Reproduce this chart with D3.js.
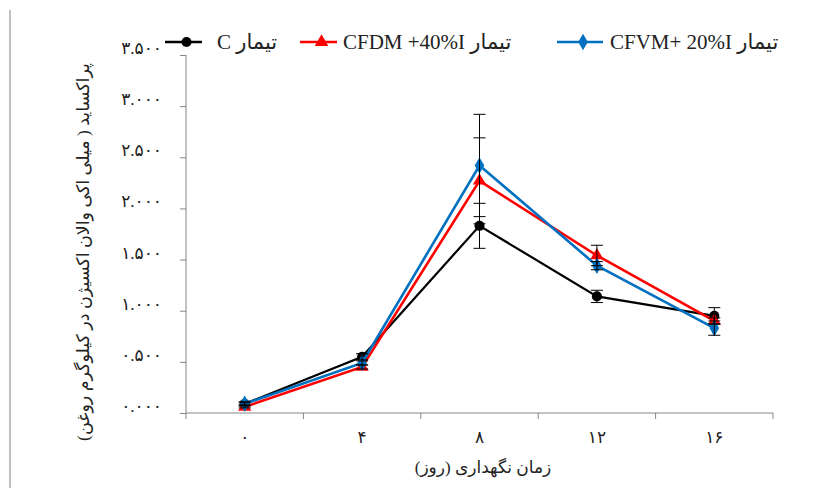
<!DOCTYPE html>
<html>
<head>
<meta charset="utf-8">
<script src="https://cdn.jsdelivr.net/npm/d3@7"></script>
<style>
body{margin:0;background:#fff;}
text{font-family:"Liberation Serif","Times New Roman","DejaVu Sans",serif;}
</style>
</head>
<body>
<div id="vis"></div>
<script>
// data
var days = ["۰","۴","۸","۱۲","۱۶"];
var yTicks = [0,0.5,1,1.5,2,2.5,3,3.5];
var yTickLabels = ["۰.۰۰۰","۰.۵۰۰","۱.۰۰۰","۱.۵۰۰","۲.۰۰۰","۲.۵۰۰","۳.۰۰۰","۳.۵۰۰"];
var seriesNames = ["C تیمار","CFDM +40%I تیمار","CFVM+ 20%I تیمار"];
var valC  = [0.09,0.55,1.83,1.14,0.95];
var valDM = [0.06,0.45,2.27,1.54,0.90];
var valVM = [0.09,0.49,2.42,1.44,0.83];
var errC  = [0.02,0.03,0.22,0.06,0.08];
var errDM = [0.01,0.02,0.42,0.10,0.03];
var errVM = [0.01,0.02,0.50,0.04,0.07];

var colors = ["#000000","#ff0000","#0070c0"];
var shapes = [d3.symbolCircle,d3.symbolTriangle,d3.symbolDiamond];

var series = [
    {name:seriesNames[0], vals:valC,  errs:errC},
    {name:seriesNames[1], vals:valDM, errs:errDM},
    {name:seriesNames[2], vals:valVM, errs:errVM}
];

var svg = d3.select("#vis").append("svg").attr("width",821).attr("height",488);

// page border line on the left
svg.append("line").attr("x1",10).attr("y1",10).attr("x2",10).attr("y2",488)
    .attr("stroke","#bfbfbf").attr("stroke-width",2);

var x = d3.scaleBand().domain(days).range([186,773]);
var y = d3.scaleLinear().domain([0,3.5]).range([413,55]);

var axisCol = "#868686";

// y axis
var gy = svg.append("g").attr("transform","translate(186,0)")
    .call(d3.axisLeft(y).tickValues(yTicks).tickSize(6).tickFormat(""));
gy.selectAll("path,line").attr("stroke",axisCol);
gy.select(".domain").attr("d","M0,"+y(3.5)+"V"+y(0));
yTicks.forEach(function(t,i){
    svg.append("text").text(yTickLabels[i])
        .attr("x",162).attr("y",y(t)-1)
        .attr("text-anchor","end").attr("font-size",17).attr("fill","#222");
});

// x axis
var gx = svg.append("g").attr("transform","translate(0,413)")
    .call(d3.axisBottom(x).tickSize(0).tickFormat(""));
gx.select(".domain").attr("stroke",axisCol).attr("d","M186,0H773");
var edges = days.map(function(d){return x(d);}).concat([x.range()[1]]);
edges.forEach(function(e){
    svg.append("line").attr("x1",e).attr("x2",e).attr("y1",413).attr("y2",419).attr("stroke",axisCol);
});
days.forEach(function(d){
    svg.append("text").text(d).attr("x",x(d)+x.bandwidth()/2).attr("y",443)
        .attr("text-anchor","middle").attr("font-size",17).attr("fill","#222");
});

// axis titles
svg.append("text").text("زمان نگهداری (روز)")
    .attr("x",483).attr("y",473).attr("direction","rtl")
    .attr("text-anchor","middle").attr("font-size",17).attr("fill","#222");
svg.append("text").text("پراکساید ( میلی اکی والان اکسیژن در کیلوگرم روغن)")
    .attr("transform","translate(89,252) rotate(-90)").attr("direction","rtl")
    .attr("text-anchor","middle").attr("font-size",17.5).attr("fill","#222");

var cx = function(i){return x(days[i])+x.bandwidth()/2;};
var line = d3.line().x(function(d,i){return cx(i);}).y(function(d){return y(d);});

// lines and markers
series.forEach(function(s,k){
    svg.append("path").datum(s.vals).attr("d",line)
        .attr("fill","none").attr("stroke",colors[k]).attr("stroke-width",k==0?2.2:2.6);
    svg.selectAll(".m"+k).data(s.vals).enter().append("path")
        .attr("class","m"+k)
        .attr("d",d3.symbol().type(shapes[k]).size(k==1?75:80))
        .attr("transform",function(d,i){return "translate("+cx(i)+","+y(d)+")";})
        .attr("fill",colors[k]);
});

// error bars
series.forEach(function(s){
    s.vals.forEach(function(v,i){
        var e = s.errs[i];
        var g = svg.append("g").attr("stroke","#000").attr("stroke-width",1);
        g.append("line").attr("x1",cx(i)).attr("x2",cx(i)).attr("y1",y(v+e)).attr("y2",y(v-e));
        g.append("line").attr("x1",cx(i)-6).attr("x2",cx(i)+6).attr("y1",y(v+e)).attr("y2",y(v+e));
        g.append("line").attr("x1",cx(i)-6).attr("x2",cx(i)+6).attr("y1",y(v-e)).attr("y2",y(v-e));
    });
});

// legend
var legX = [165,300,557];
var legW = [37,37,46];
var legT = [217,343,610];
series.forEach(function(s,k){
    var g = svg.append("g").attr("transform","translate("+legX[k]+",42)");
    g.append("line").attr("x1",0).attr("x2",legW[k]).attr("y1",0).attr("y2",0)
        .attr("stroke",colors[k]).attr("stroke-width",2.5);
    g.append("path").attr("d",d3.symbol().type(shapes[k]).size(80))
        .attr("transform","translate("+(legW[k]/2+3)+",0)").attr("fill",colors[k]);
    g.append("text").text(s.name).attr("x",legT[k]-legX[k]).attr("y",7)
        .attr("font-size",21).attr("fill","#222");
});
</script>
</body>
</html>
